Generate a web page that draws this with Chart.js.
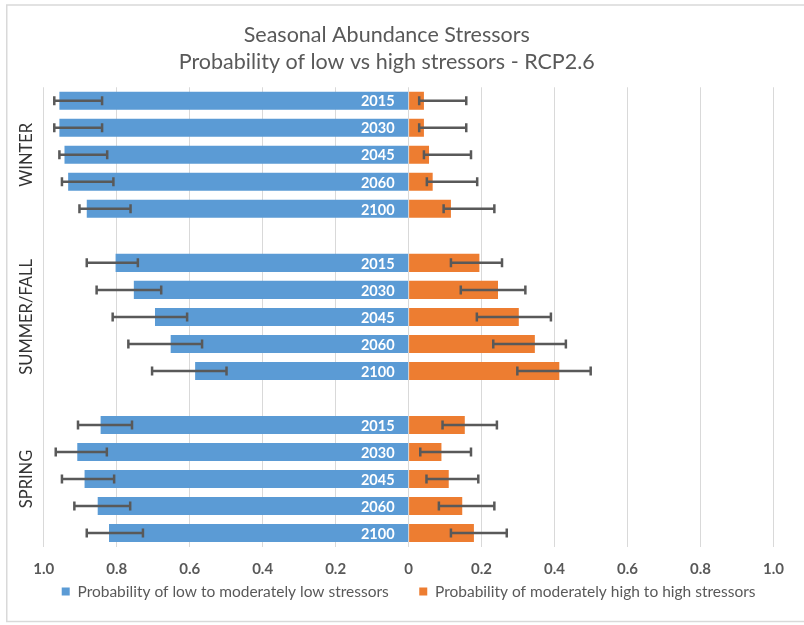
<!DOCTYPE html>
<html>
<head>
<meta charset="utf-8">
<title>Seasonal Abundance Stressors</title>
<script src="https://cdn.jsdelivr.net/npm/chart.js@4.4.0/dist/chart.umd.min.js"></script>
<style>
  html, body { margin: 0; padding: 0; background: #fff; }
  canvas { display: block; }
</style>
</head>
<body>
<canvas id="chart" width="804" height="625"></canvas>
<script>
// rows top to bottom, "" = spacer row between seasons
const years = ["2015", "2030", "2045", "2060", "2100", "",
               "2015", "2030", "2045", "2060", "2100", "",
               "2015", "2030", "2045", "2060", "2100"];

const seasons = ["WINTER", "SUMMER/FALL", "SPRING"];
const seasonFirstRow = [0, 6, 12];
const seasonLastRow = [4, 10, 16];

// probability of low to moderately low stressors (drawn to the left)
const lowProb = [0.957, 0.957, 0.943, 0.933, 0.882, null,
                 0.803, 0.753, 0.695, 0.652, 0.585, null,
                 0.844, 0.908, 0.888, 0.852, 0.821];
const lowErrFrom = [0.971, 0.971, 0.957, 0.950, 0.902, null,
                    0.882, 0.855, 0.811, 0.768, 0.703, null,
                    0.906, 0.967, 0.950, 0.916, 0.882];
const lowErrTo = [0.840, 0.840, 0.826, 0.809, 0.762, null,
                  0.742, 0.678, 0.607, 0.566, 0.499, null,
                  0.758, 0.827, 0.807, 0.763, 0.728];

// probability of moderately high to high stressors (drawn to the right)
const highProb = [0.042, 0.042, 0.056, 0.066, 0.116, null,
                  0.194, 0.245, 0.302, 0.346, 0.413, null,
                  0.154, 0.090, 0.110, 0.147, 0.179];
const highErrFrom = [0.029, 0.029, 0.042, 0.050, 0.096, null,
                     0.116, 0.143, 0.187, 0.232, 0.298, null,
                     0.093, 0.032, 0.049, 0.083, 0.116];
const highErrTo = [0.158, 0.158, 0.171, 0.188, 0.235, null,
                   0.256, 0.320, 0.390, 0.431, 0.499, null,
                   0.242, 0.171, 0.191, 0.235, 0.269];

const xTicks = [-1, -0.8, -0.6, -0.4, -0.2, 0, 0.2, 0.4, 0.6, 0.8, 1];

const GREY = "#595959";
const FONT = "Lato, 'Open Sans', sans-serif";

// error bars, year labels inside the bars, season labels, outer frame
const overlay = {
  id: "overlay",
  afterDatasetsDraw(chart) {
    const ctx = chart.ctx;
    const xs = chart.scales.x;
    const ys = chart.scales.y;

    ctx.save();
    ctx.strokeStyle = GREY;
    ctx.lineWidth = 2.5;
    const drawErr = (a, b, i) => {
      const y = ys.getPixelForValue(i);
      const x1 = xs.getPixelForValue(a);
      const x2 = xs.getPixelForValue(b);
      ctx.beginPath();
      ctx.moveTo(x1, y); ctx.lineTo(x2, y);
      ctx.moveTo(x1, y - 4.5); ctx.lineTo(x1, y + 4.5);
      ctx.moveTo(x2, y - 4.5); ctx.lineTo(x2, y + 4.5);
      ctx.stroke();
    };
    years.forEach((yr, i) => {
      if (lowErrFrom[i] != null) drawErr(-lowErrFrom[i], -lowErrTo[i], i);
      if (highErrFrom[i] != null) drawErr(highErrFrom[i], highErrTo[i], i);
    });

    // year labels next to the zero line
    ctx.fillStyle = "#ffffff";
    ctx.font = "bold 14.5px " + FONT;
    ctx.textAlign = "right";
    ctx.textBaseline = "middle";
    const x0 = xs.getPixelForValue(0);
    years.forEach((yr, i) => {
      if (yr) ctx.fillText(yr, x0 - 14, ys.getPixelForValue(i) + 1);
    });

    // season group labels, rotated
    ctx.fillStyle = "#333333";
    ctx.font = "16.5px " + FONT;
    ctx.textAlign = "center";
    seasons.forEach((s, k) => {
      const yc = (ys.getPixelForValue(seasonFirstRow[k]) + ys.getPixelForValue(seasonLastRow[k])) / 2;
      ctx.save();
      ctx.translate(27, yc);
      ctx.rotate(-Math.PI / 2);
      ctx.fillText(s, 0, 0);
      ctx.restore();
    });

    // chart frame
    ctx.strokeStyle = "#d9d9d9";
    ctx.lineWidth = 1.5;
    ctx.beginPath();
    ctx.moveTo(810, 5);
    ctx.lineTo(6.75, 5);
    ctx.lineTo(6.75, 621.5);
    ctx.lineTo(810, 621.5);
    ctx.stroke();
    ctx.restore();
  }
};

new Chart(document.getElementById("chart"), {
  type: "bar",
  data: {
    labels: years,
    datasets: [
      {
        label: "Probability of low to moderately low stressors",
        data: lowProb.map((v) => (v == null ? null : -v)),
        backgroundColor: "#5B9BD5",
      },
      {
        label: "Probability of moderately high to high stressors",
        data: highProb,
        backgroundColor: "#ED7D31",
      },
    ],
  },
  options: {
    indexAxis: "y",
    responsive: false,
    animation: false,
    layout: {
      padding: { left: 0, right: 30.5, top: 0, bottom: 15.75 },
    },
    datasets: {
      bar: { barPercentage: 0.667, categoryPercentage: 1.0 },
    },
    plugins: {
      tooltip: { enabled: false },
      title: {
        display: true,
        text: ["Seasonal Abundance Stressors", "Probability of low vs high stressors - RCP2.6"],
        color: GREY,
        font: { family: FONT, size: 21.5, weight: "normal", lineHeight: 1.28 },
        padding: { top: 21.25, bottom: 11 },
      },
      legend: {
        position: "bottom",
        fullSize: false,
        labels: {
          color: GREY,
          font: { family: FONT, size: 15.5 },
          boxWidth: 8,
          boxHeight: 8,
          padding: 3.25,
          // widen the gap between the two entries
          generateLabels: (chart) => {
            const items = Chart.defaults.plugins.legend.labels.generateLabels(chart);
            items[0].text += "\u2003\u2003 ";
            return items;
          },
        },
      },
    },
    scales: {
      x: {
        stacked: true,
        min: -1,
        max: 1,
        afterBuildTicks: (s) => { s.ticks = xTicks.map((v) => ({ value: v })); },
        afterFit: (s) => { s.height = 34; },
        grid: { color: "#d9d9d9", lineWidth: 1, drawTicks: false },
        border: { display: false },
        ticks: {
          color: GREY,
          padding: 13.5,
          font: { family: FONT, size: 15, weight: "bold" },
          callback: (v) => (Math.abs(v) < 1e-9 ? "0" : Math.abs(v).toFixed(1)),
        },
      },
      y: {
        stacked: true,
        afterFit: (s) => { s.width = 43.7; },
        grid: { display: false },
        border: { display: false },
        ticks: { display: false },
      },
    },
  },
  plugins: [overlay],
});
</script>
</body>
</html>
